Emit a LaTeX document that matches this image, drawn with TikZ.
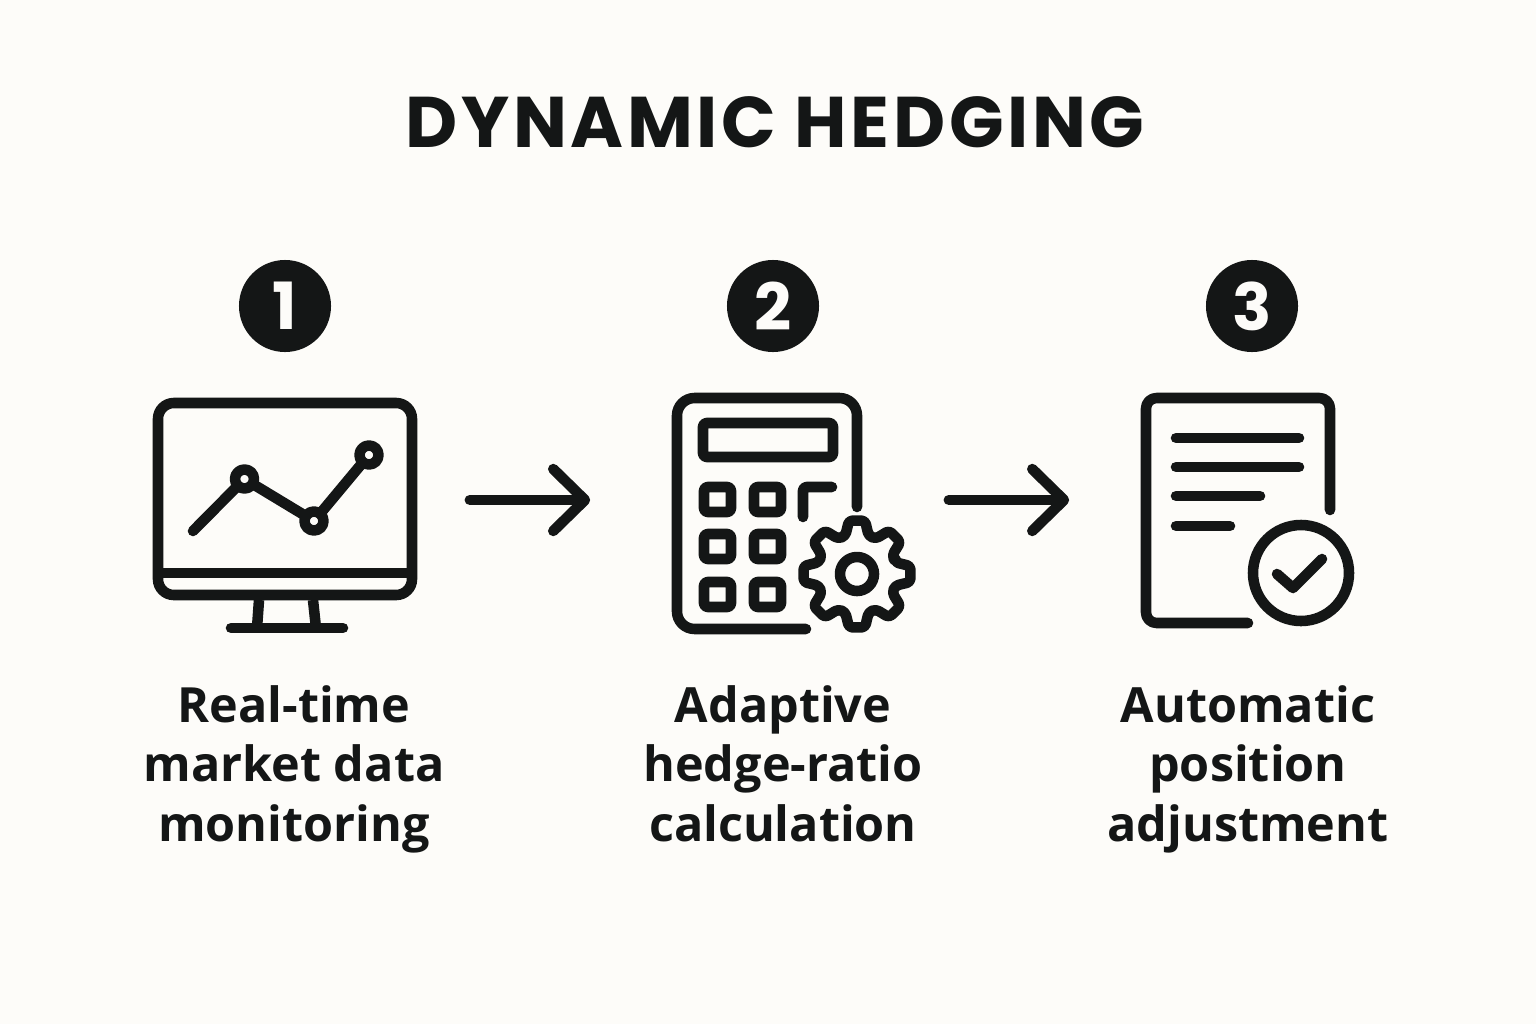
\documentclass[tikz,border=0pt]{standalone}
\usepackage{fontspec}
\setmainfont{Open Sans}
\newfontfamily\headfont{Poppins}
\usetikzlibrary{arrows.meta}
\definecolor{ink}{HTML}{141616}
\definecolor{paper}{HTML}{FDFCF9}
\tikzset{
  iconline/.style={draw=ink, line width=3pt, line cap=round, line join=round},
  iconbox/.style={inner sep=0pt, minimum height=2.4cm},
  badge/.style={circle, fill=ink, text=paper, inner sep=0pt, minimum size=0.92cm, font=\headfont\bfseries\fontsize{18.5}{18.5}\selectfont},
  steplabel/.style={text=ink, align=center, anchor=base, font=\bfseries\fontsize{13.8}{16.8}\selectfont},
  flowarrow/.style={iconline, -{Straight Barb[round, length=9pt, width=17.6pt, line width=3pt]}},
  keycap/.style={iconline, rounded corners=1pt},
}
\begin{document}
\begin{tikzpicture}[x=0.01cm, y=-0.01cm]
  \fill[paper] (0,0) rectangle (1536,1024);
  \useasboundingbox (0,0) rectangle (1536,1024);

  \node[text=ink, font=\headfont\bfseries\fontsize{20.4}{20.4}\selectfont\addfontfeatures{LetterSpace=5}] (title) at (775,122) {DYNAMIC HEDGING};

  \node[badge] (badge1) at (285,306) {1};
  \node[badge] (badge2) at (773,306) {2};
  \node[badge] (badge3) at (1252,306) {3};

  \node[iconbox, minimum width=3.68cm] (monitor) at (285,500) {};
  \node[iconbox, minimum width=3.57cm] (calculator) at (769.5,500) {};
  \node[iconbox, minimum width=3.40cm] (report) at (1240,500) {};

  \draw[iconline, rounded corners=4.5pt] (158,403) rectangle (412,595);
  \draw[iconline, line cap=butt] (158,573) -- (412,573);
  \draw[iconline, line cap=butt] (259,600) -- (257,628);
  \draw[iconline, line cap=butt] (313,600) -- (316,628);
  \draw[iconline] (231,628) -- (343,628);
  \draw[iconline] (193,531) -- (244.5,479) -- (314,521) -- (369,455);
  \foreach \x/\y in {244.5/479, 314/521, 369/455}
    \draw[iconline, fill=paper] (\x,\y) circle (9.5);

  \draw[flowarrow] (monitor.east) -- (calculator.west);

  \draw[iconline, rounded corners=5pt] (806,629) -- (677,629) -- (677,398) -- (857,398) -- (857,507);
  \draw[keycap] (703,423) rectangle (833,457);
  \foreach \x in {704,754}
    \foreach \y in {487,534,582}
      \draw[keycap] (\x,\y) rectangle +(27,25);
  \draw[keycap] (803,517) -- (803,487) -- (832,487);

  \begin{scope}[shift={(857,574)}]
    \draw[iconline, fill=paper, rounded corners=1pt] (-17:40)
      foreach \a in {0,45,...,315} { -- ({\a-17}:40) -- ({\a-8.5}:54) -- ({\a+8.5}:54) -- ({\a+17}:40) } -- cycle;
    \draw[iconline] (0,0) circle (17);
  \end{scope}

  \draw[flowarrow] (calculator.east) -- (report.west);

  \draw[iconline, rounded corners=3pt] (1248,623) -- (1146,623) -- (1146,398) -- (1330,398) -- (1330,510);
  \draw[iconline] (1176,438) -- (1299,438);
  \draw[iconline] (1176,467) -- (1299,467);
  \draw[iconline] (1176,496) -- (1260,496);
  \draw[iconline] (1176,526) -- (1230,526);
  \draw[iconline, fill=paper] (1301,573) circle (48);
  \draw[iconline] (1277,574) -- (1293,588) -- (1322,559);

  \node[steplabel] (label1) at (294,841) {Real-time\\market data\\monitoring};
  \node[steplabel] (label2) at (783,841) {Adaptive\\hedge-ratio\\calculation};
  \node[steplabel] (label3) at (1248,841) {Automatic\\position\\adjustment};
\end{tikzpicture}
\end{document}
